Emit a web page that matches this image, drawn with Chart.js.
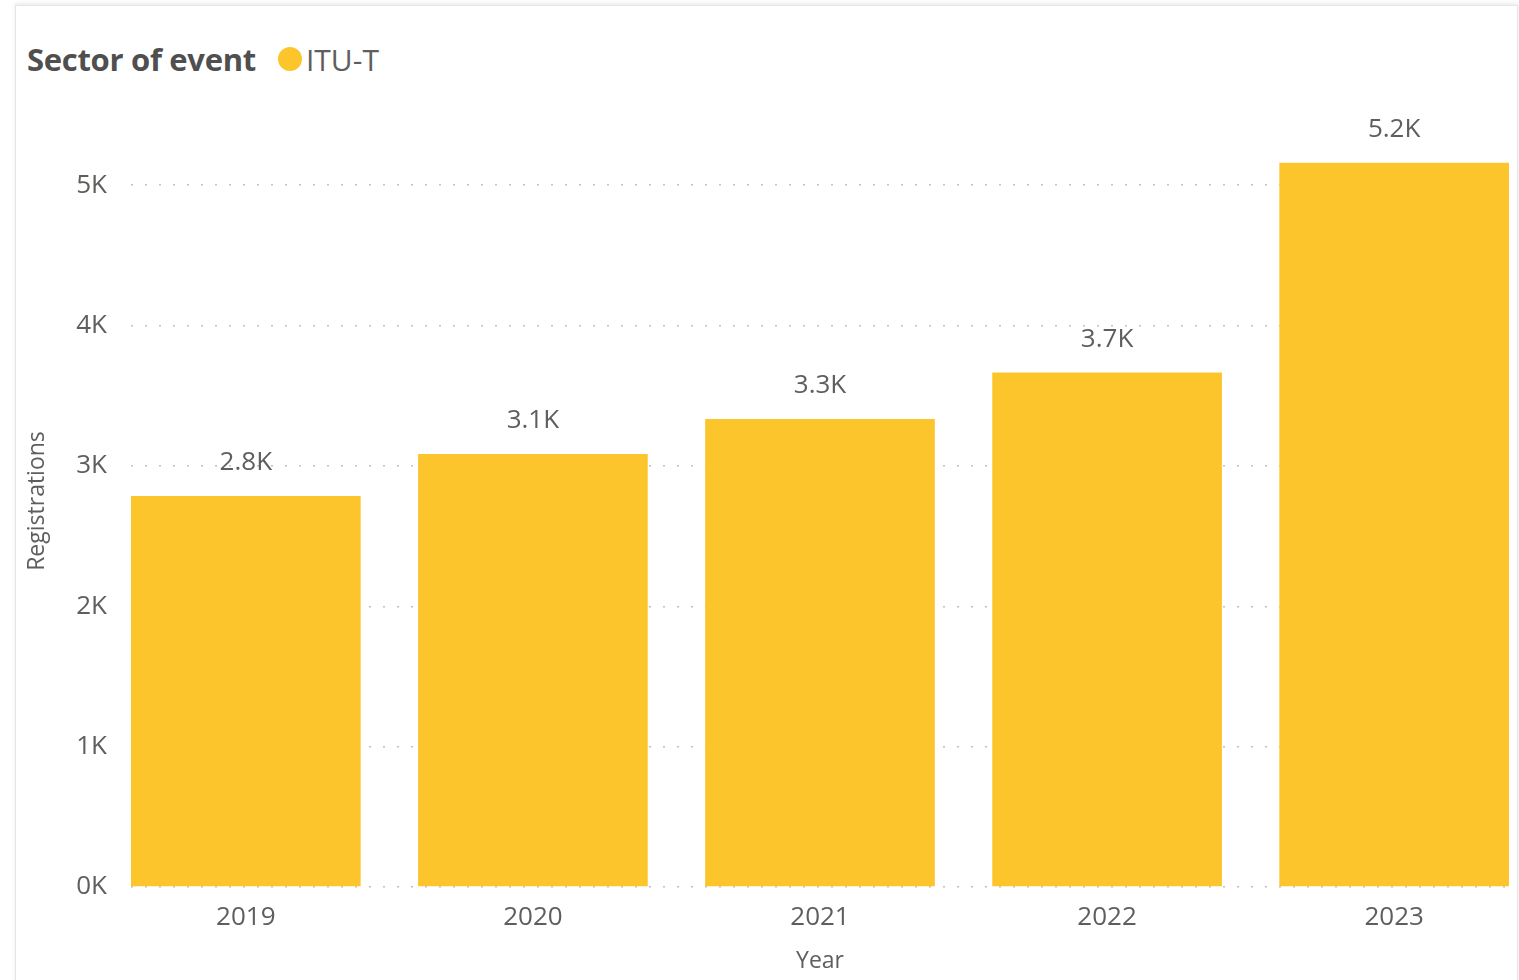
<!DOCTYPE html>
<html>
<head>
<meta charset="utf-8">
<script src="https://cdn.jsdelivr.net/npm/chart.js@4.4.0/dist/chart.umd.min.js"></script>
<style>
    html, body { margin: 0; padding: 0; background: #fff; }
    body { width: 1519px; height: 980px; position: relative; overflow: hidden; font-family: 'Segoe UI', 'Open Sans', sans-serif; }
    #card { position: absolute; left: 15px; top: 5px; width: 1501px; height: 990px; border: 1px solid #e6e6e6; box-shadow: 0 -2px 4px rgba(0,0,0,0.08); }
    #header { position: absolute; left: 27px; top: 37px; height: 44px; display: flex; align-items: center; }
    #title { font-weight: bold; font-size: 31px; color: #4f4f4f; margin-right: 22px; letter-spacing: -0.3px; }
    #dot { width: 24px; height: 24px; border-radius: 50%; background: #FDC52C; margin-right: 4px; }
    #legendText { font-size: 30px; color: #605e5c; }
    #wrap { position: absolute; left: 0; top: 0; width: 1519px; height: 980px; }
</style>
</head>
<body>
<div id="card"></div>
<div id="header"><span id="title">Sector of event</span><span id="dot"></span><span id="legendText">ITU-T</span></div>
<div id="wrap"><canvas id="chart" width="1519" height="980"></canvas></div>
<script>
const years = ['2019', '2020', '2021', '2022', '2023']
const registrations = [2785, 3085, 3335, 3665, 5160]
const yTicks = [0, 1000, 2000, 3000, 4000, 5000]
const seriesName = 'ITU-T'

const barColor = '#FDC52C'
const textColor = '#605e5c'
const font = "'Segoe UI', 'Open Sans', sans-serif"

function fmtK(v) {
    return (v / 1000).toFixed(1) + 'K'
}

// value labels above the bars
const barLabels = {
    id: 'barLabels',
    afterDatasetsDraw(chart) {
        var ctx = chart.ctx
        var meta = chart.getDatasetMeta(0)
        ctx.save()
        ctx.font = '26px ' + font
        ctx.fillStyle = textColor
        ctx.textAlign = 'center'
        ctx.textBaseline = 'middle'
        meta.data.forEach((bar, i) => {
            ctx.fillText(fmtK(registrations[i]), bar.x, bar.y - 33)
        })
        ctx.restore()
    }
}

var ctx = document.getElementById('chart')
var chart = new Chart(ctx, {
    type: 'bar',
    data: {
        datasets: [{
            label: seriesName,
            data: years.map((y, i) => ({ x: i, y: registrations[i] })),
            backgroundColor: barColor,
            borderWidth: 0,
            categoryPercentage: 1,
            barPercentage: 0.8
        }]
    },
    options: {
        responsive: false,
        animation: false,
        layout: { padding: { left: 15, right: 10, top: 115, bottom: 5 } },
        plugins: {
            legend: { display: false },
            tooltip: { enabled: false }
        },
        scales: {
            x: {
                type: 'linear',
                offset: false,
                min: -0.4,
                max: 4.4,
                grid: { display: false },
                border: { display: false },
                ticks: {
                    stepSize: 1,
                    includeBounds: false,
                    padding: 7,
                    color: textColor,
                    font: { size: 26, family: font },
                    callback: v => years[v] !== undefined ? years[v] : ''
                },
                title: {
                    display: true,
                    text: 'Year',
                    color: textColor,
                    font: { size: 23, family: font },
                    padding: { top: 2, bottom: 0 }
                },
                afterFit: function(scale) { scale.height = 88 }
            },
            y: {
                min: 0,
                max: 5500,
                afterBuildTicks: function(scale) { scale.ticks = yTicks.map(v => ({ value: v })) },
                grid: {
                    color: '#c0c0c0',
                    lineWidth: 1.5,
                    drawTicks: false
                },
                border: { display: false, dash: [2, 12] },
                ticks: {
                    padding: 24,
                    color: textColor,
                    font: { size: 26, family: font },
                    callback: v => (v / 1000) + 'K'
                },
                title: {
                    display: true,
                    text: 'Registrations',
                    color: textColor,
                    font: { size: 23, family: font },
                    padding: { top: 9, bottom: 0 }
                },
                afterFit: function(scale) { scale.width = 116 }
            }
        }
    },
    plugins: [barLabels]
})
</script>
</body>
</html>
